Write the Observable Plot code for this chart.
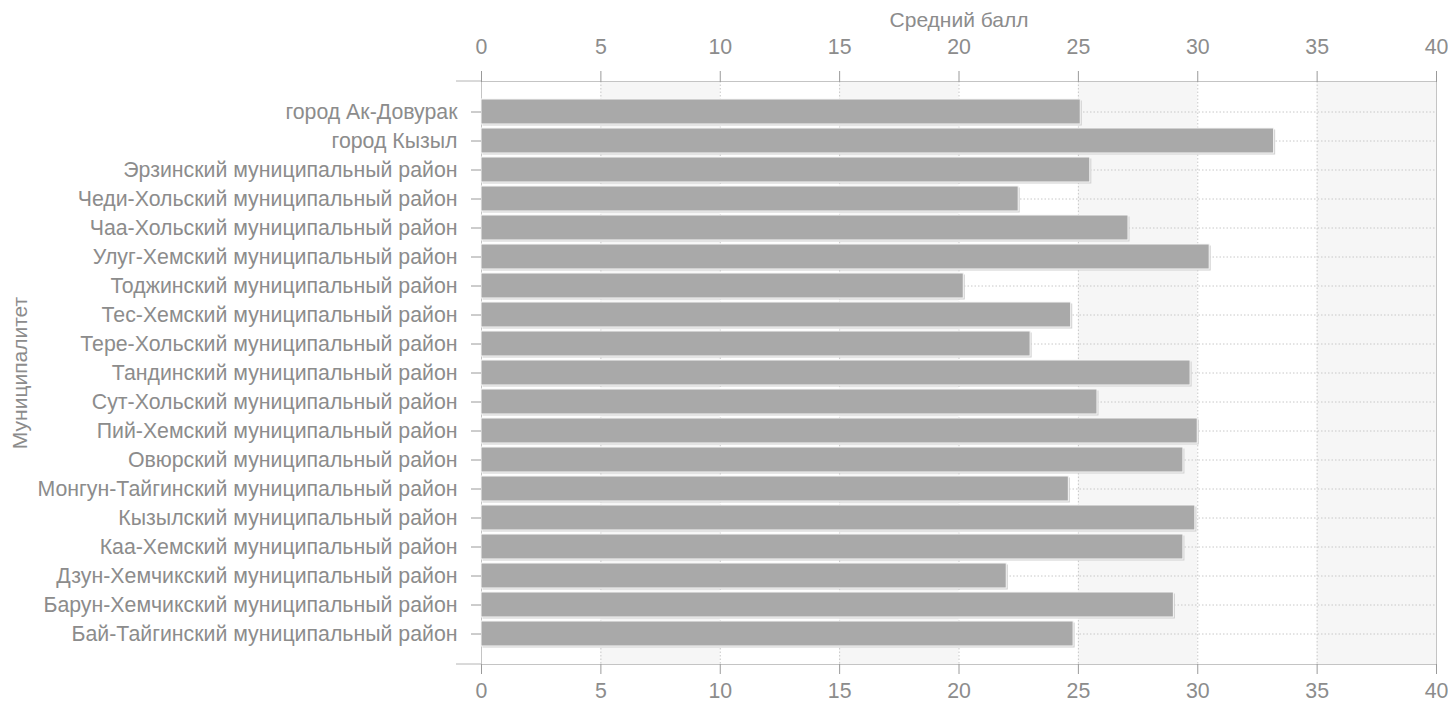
<!DOCTYPE html>
<html><head><meta charset="utf-8">
<script src="https://cdn.jsdelivr.net/npm/d3@7"></script>
<script src="https://cdn.jsdelivr.net/npm/@observablehq/plot@0.6"></script>
<style>body{margin:0;background:#fff}</style>
</head><body><div id="chart"></div>
<script>
const municipalities = [
  "город Ак-Довурак",
  "город Кызыл",
  "Эрзинский муниципальный район",
  "Чеди-Хольский муниципальный район",
  "Чаа-Хольский муниципальный район",
  "Улуг-Хемский муниципальный район",
  "Тоджинский муниципальный район",
  "Тес-Хемский муниципальный район",
  "Тере-Хольский муниципальный район",
  "Тандинский муниципальный район",
  "Сут-Хольский муниципальный район",
  "Пий-Хемский муниципальный район",
  "Овюрский муниципальный район",
  "Монгун-Тайгинский муниципальный район",
  "Кызылский муниципальный район",
  "Каа-Хемский муниципальный район",
  "Дзун-Хемчикский муниципальный район",
  "Барун-Хемчикский муниципальный район",
  "Бай-Тайгинский муниципальный район"
];
const scores = [25.1, 33.2, 25.5, 22.5, 27.1, 30.5, 20.2, 24.7, 23.0, 29.7, 25.8, 30.0, 29.4, 24.6, 29.9, 29.4, 22.0, 29.0, 24.8];
const xTicks = [0, 5, 10, 15, 20, 25, 30, 35, 40];
const xLabel = "Средний балл";
const yLabel = "Муниципалитет";

const data = municipalities.map((name, i) => ({name, score: scores[i]}));
const bands = xTicks.slice(0, -1)
  .map((t, i) => ({x1: t, x2: xTicks[i + 1], shade: i % 2 === 1}))
  .filter(d => d.shade);

const textColor = "#8c8c8c";
const gridColor = "#c8c8c8";

const plot = Plot.plot({
  width: 1448,
  height: 705,
  marginTop: 81,
  marginBottom: 41,
  marginLeft: 481,
  marginRight: 12,
  style: {fontFamily: "'Liberation Sans', Arial, sans-serif", fontSize: "21.3px", color: textColor, background: "#fff", overflow: "visible"},
  x: {domain: [0, 40], ticks: xTicks},
  y: {domain: municipalities, paddingInner: 0.14, paddingOuter: 0.59},
  marks: [
    Plot.rect(bands, {x1: "x1", x2: "x2", fill: "#f6f6f6"}),
    Plot.ruleX(xTicks, {stroke: gridColor, strokeDasharray: "1.5,2"}),
    Plot.ruleY(municipalities, {stroke: gridColor, strokeDasharray: "1.5,2"}),
    Plot.frame({stroke: "#c4c4c4"}),
    Plot.barX(data, {x: "score", y: "name", fill: "#d0d0d0", dx: 1.5, dy: 1.5}),
    Plot.barX(data, {x: "score", y: "name", fill: "#a9a9a9", stroke: "#f8f8f8", strokeWidth: 1}),
    Plot.axisX({anchor: "top", ticks: xTicks, tickSize: 11, tickPadding: 17, label: null, stroke: "#9a9a9a", fill: textColor}),
    Plot.axisX({anchor: "bottom", ticks: xTicks, tickSize: 10, tickPadding: 8, label: null, stroke: "#9a9a9a", fill: textColor}),
    Plot.axisY({tickSize: 10, tickPadding: 14, label: null, stroke: "#9a9a9a", fill: textColor}),
    Plot.text([xLabel], {frameAnchor: "top", dy: -69, fill: textColor, fontSize: 21}),
    Plot.text([yLabel], {frameAnchor: "left", textAnchor: "middle", dx: -461, rotate: -90, fill: textColor, fontSize: 21})
  ]
});

// extend top/bottom axis lines a little to the left of zero, as in the original
const xs = plot.scale("x");
const x0 = xs.apply(0);
const svg = d3.select(plot);
[81, 705 - 41].forEach(y => {
  svg.append("line").attr("x1", x0 - 25).attr("x2", x0).attr("y1", y).attr("y2", y)
    .attr("stroke", "#b4b4b4");
});

document.getElementById("chart").appendChild(plot);
</script>
</body></html>
